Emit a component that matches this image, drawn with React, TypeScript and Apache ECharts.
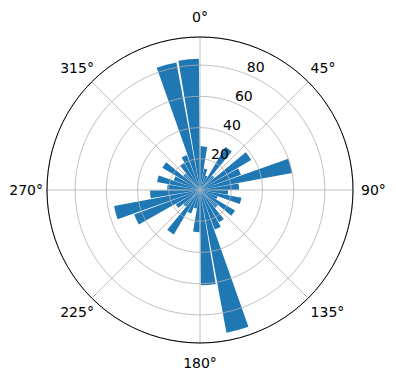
import React, { useEffect, useRef } from "react";
import * as echarts from "echarts";

// bin centres in degrees (clockwise from north)
const binCenters = [
  5, 15, 25, 35, 45, 55, 65, 75, 85, 95, 105, 115, 125, 135, 145, 155, 165, 175,
  185, 195, 205, 215, 225, 235, 245, 255, 265, 275, 285, 295, 305, 315, 325, 335, 345, 355,
];
// bar heights
const counts = [
  28, 14, 10, 32, 12, 38, 28, 60, 25, 18, 27, 12, 26, 15, 24, 27, 93, 61,
  27, 12, 16, 33, 14, 18, 45, 56, 32, 21, 28, 18, 28, 14, 20, 24, 83, 84,
];
const angleTickLabels = ["0°", "45°", "90°", "135°", "180°", "225°", "270°", "315°"];
const radialTicks = [20, 40, 60, 80];
const radialMax = 98;

const FONT = "DejaVu Sans";
const CENTER = [200, 190];
const RADIUS = 153;

// per-label padding [top, right, bottom, left] so that labels sit centred like matplotlib's
const labelPads: number[][] = [
  [0, 0, 16, 0],
  [0, 0, 9, 4.5],
  [0, 0, 0, 11],
  [9, 0, 0, 4.5],
  [16, 0, 0, 0],
  [9, 0, 0, 0],
  [0, 7, 0, 0],
  [0, 0, 9, 0],
];

export default function App() {
  const ref = useRef<HTMLDivElement>(null);
  useEffect(() => {
    if (!ref.current) return;
    const chart = echarts.init(ref.current, undefined, { renderer: "svg" });
    const rich: any = {};
    labelPads.forEach((p, i) => {
      rich["a" + i] = { padding: p, fontFamily: FONT, fontSize: 14, color: "#000" };
    });
    const option: any = {
      animation: false,
      backgroundColor: "#ffffff",
      polar: [
        { center: CENTER, radius: RADIUS },
        { center: CENTER, radius: RADIUS },
        { center: CENTER, radius: RADIUS },
      ],
      angleAxis: [
        {
          polarIndex: 0,
          type: "value",
          min: 0,
          max: 360,
          interval: 45,
          startAngle: 90,
          clockwise: true,
          z: 4,
          axisLine: { show: true, lineStyle: { color: "#000", width: 1 } },
          axisTick: { show: false },
          splitLine: { show: true, lineStyle: { color: "#b0b0b0", width: 0.8 } },
          axisLabel: {
            show: true,
            margin: -3,
            color: "#000",
            fontFamily: FONT,
            fontSize: 14,
            showMaxLabel: false,
            rich,
            formatter: (v: number) => {
              const i = Math.round(v / 45);
              if (i < 0 || i >= angleTickLabels.length) return "";
              return "{a" + i + "|" + angleTickLabels[i] + "}";
            },
          },
        },
        {
          polarIndex: 1,
          type: "category",
          data: binCenters.map(String),
          startAngle: 90,
          clockwise: true,
          axisLine: { show: false },
          axisTick: { show: false },
          axisLabel: { show: false },
          splitLine: { show: false },
        },
        {
          polarIndex: 2,
          type: "value",
          min: 0,
          max: 360,
          startAngle: 67.5,
          show: false,
        },
      ],
      radiusAxis: [
        {
          polarIndex: 0,
          type: "value",
          min: 0,
          max: radialMax,
          interval: 20,
          z: 3,
          axisLine: { show: false },
          axisTick: { show: false },
          axisLabel: { show: false },
          splitLine: { show: true, lineStyle: { color: "#b0b0b0", width: 0.8 } },
        },
        {
          polarIndex: 1,
          type: "value",
          min: 0,
          max: radialMax,
          axisLine: { show: false },
          axisTick: { show: false },
          axisLabel: { show: false },
          splitLine: { show: false },
        },
        {
          polarIndex: 2,
          type: "value",
          min: 0,
          max: radialMax,
          interval: 20,
          z: 5,
          axisLine: { show: false },
          axisTick: { show: false },
          splitLine: { show: false },
          axisLabel: {
            show: true,
            inside: true,
            margin: 1,
            align: "left",
            verticalAlign: "bottom",
            color: "#000",
            fontFamily: FONT,
            fontSize: 14,
            showMinLabel: false,
            showMaxLabel: false,
            formatter: (v: number) => (radialTicks.includes(v) ? String(v) : ""),
          },
        },
      ],
      series: [
        {
          type: "bar",
          coordinateSystem: "polar",
          polarIndex: 1,
          data: counts,
          barCategoryGap: "10%",
          itemStyle: { color: "#1f77b4" },
          z: 2,
        },
      ],
    };
    chart.setOption(option);
    return () => chart.dispose();
  }, []);
  return (
    <div
      ref={ref}
      style={{ position: "absolute", left: 0, top: 0, width: 396, height: 380 }}
    />
  );
}
